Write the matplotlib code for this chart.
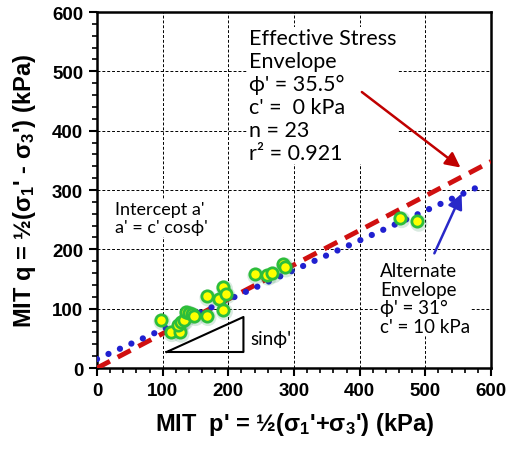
import numpy as np
import matplotlib
matplotlib.use("Agg")
import matplotlib.pyplot as plt
from matplotlib.ticker import MultipleLocator

plt.rcParams['font.family'] = ['Liberation Sans', 'DejaVu Sans']
plt.rcParams['mathtext.fontset'] = 'custom'
plt.rcParams['mathtext.rm'] = 'Liberation Sans'
plt.rcParams['mathtext.default'] = 'regular'

# measured p', q points (kPa)
p_pts = [97, 112, 126, 124, 128, 132, 136, 140, 144, 148, 167, 167, 186, 192,
         196, 192, 240, 259, 267, 284, 286, 462, 488]
q_pts = [81, 61, 60, 72, 77, 81, 95, 93, 91, 88, 88, 121, 117, 137,
         125, 98, 158, 156, 160, 175, 170, 253, 247]

# envelope end points
eff_p = [0, 600]
eff_q = [0, 348]
alt_p = [0, 592]
alt_q = [15, 311]

# slope triangle corners
tri_p = [106, 223, 223, 106]
tri_q = [27, 86, 27, 27]

txt_font = ['Lato', 'DejaVu Sans']

fig = plt.figure(figsize=(5.09, 4.52), dpi=100)
ax = fig.add_axes([0.1906, 0.1836, 0.774, 0.7876])

ax.set_xlim(0, 600)
ax.set_ylim(0, 600)
ax.xaxis.set_major_locator(MultipleLocator(100))
ax.yaxis.set_major_locator(MultipleLocator(100))
ax.xaxis.set_minor_locator(MultipleLocator(20))
ax.yaxis.set_minor_locator(MultipleLocator(20))
ax.grid(True, which='major', color='black', linestyle=(0, (3, 2)), lw=0.7)
ax.tick_params(which='major', direction='out', length=6, width=1.5, labelsize=13.5, pad=4)
ax.tick_params(which='minor', direction='out', length=3.5, width=1.2)
for lab in ax.get_xticklabels() + ax.get_yticklabels():
    lab.set_fontweight('bold')
for s in ax.spines.values():
    s.set_linewidth(1.8)

# envelopes
ax.plot(eff_p, eff_q, color='#D01010', lw=3.5, linestyle=(0, (3, 1.8)), zorder=3)
ax.plot(alt_p, alt_q, color='#2020D0', lw=4.5, linestyle=(0, (0.01, 2.0)),
        dash_capstyle='round', zorder=3)

# glow + points
ax.scatter(np.array(p_pts) + 2, np.array(q_pts) - 3, s=150, color='#2E8B57',
           alpha=0.18, edgecolors='none', zorder=4)
ax.scatter(p_pts, q_pts, s=66, facecolor='#FFFF00', edgecolor='#2DBE3A',
           linewidth=2, zorder=5)

# slope triangle
ax.plot(tri_p, tri_q, color='black', lw=1.5, zorder=4)
ax.text(233, 50, "sin\u03d5'", fontsize=13.5, family=txt_font, va='center', ha='left')

bbox = dict(facecolor='white', edgecolor='none', pad=1)
ax.text(231, 573, "Effective Stress\nEnvelope\n\u03d5' = 35.5\u00b0\nc' =  0 kPa\nn = 23\nr\u00b2 = 0.921",
        fontsize=15.5, family=txt_font, va='top', ha='left', linespacing=1.18,
        bbox=bbox, zorder=6)
ax.text(27, 282, "Intercept a'\na' = c' cos\u03d5'", fontsize=13, family=txt_font,
        va='top', ha='left', linespacing=1.2, bbox=bbox, zorder=6)
ax.text(431, 178, "Alternate\nEnvelope\n\u03d5' = 31\u00b0\nc' = 10 kPa", fontsize=13.5,
        family=txt_font, va='top', ha='left', linespacing=1.1, bbox=bbox, zorder=6)

# arrows
ax.annotate('', xy=(557, 335), xytext=(400, 468),
            arrowprops=dict(arrowstyle='-|>,head_length=0.9,head_width=0.45',
                            color='#C00000', lw=1.8), zorder=7)
ax.annotate('', xy=(557, 298), xytext=(512, 189),
            arrowprops=dict(arrowstyle='-|>,head_length=0.9,head_width=0.45',
                            color='#2828C8', lw=1.8), zorder=7)

ax.set_xlabel("MIT  p' = \u00bd(\u03c3$_1$'+\u03c3$_3$') (kPa)", fontsize=17,
              fontweight='bold', labelpad=8)
ax.set_ylabel("MIT q = \u00bd(\u03c3$_1$' - \u03c3$_3$') (kPa)", fontsize=17,
              fontweight='bold', labelpad=10)

fig.savefig("out.png", dpi=100)
